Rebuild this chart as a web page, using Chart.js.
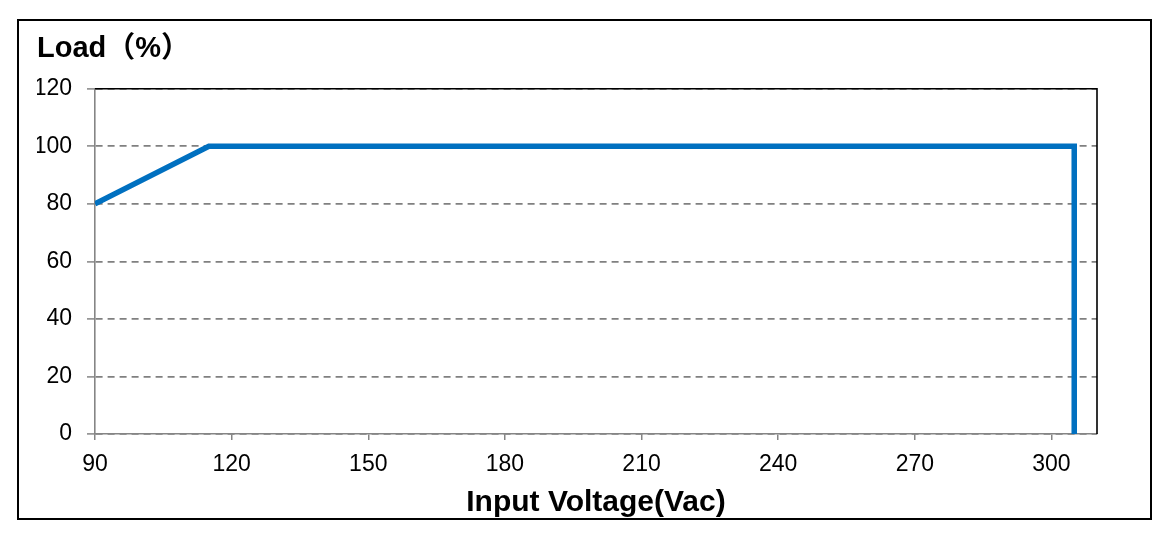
<!DOCTYPE html>
<html>
<head>
<meta charset="utf-8">
<title>Load vs Input Voltage</title>
<script src="https://cdn.jsdelivr.net/npm/chart.js@4/dist/chart.umd.min.js"></script>
<style>
  html, body { margin: 0; padding: 0; background: #fff; }
  #wrap { position: relative; width: 1163px; height: 536px; }
  #frame {
    position: absolute; left: 17px; top: 19px; width: 1135px; height: 501px;
    border: 2px solid #000; box-sizing: border-box; pointer-events: none;
  }
</style>
</head>
<body>
<div id="wrap">
  <canvas id="deratingChart"></canvas>
  <div id="frame"></div>
</div>
<script>
// Derating curve
const voltage = [90, 115, 305, 305];
const load = [80, 100, 100, 0];

const xTicks = { min: 90, max: 310, step: 30 };
const yTicks = { min: 0, max: 120, step: 20 };

const FONT = "'Liberation Sans', Arial, 'Noto Sans CJK SC', sans-serif";
const AXIS_GRAY = '#858585';
const GRID_GRAY = '#808080';

/**
 * Black top and right edges of the plot area
 */
const plotFrame = {
  id: 'plotFrame',
  afterDatasetsDraw(chart) {
    const { ctx, chartArea: a } = chart;
    ctx.save();
    ctx.strokeStyle = '#000';
    ctx.lineWidth = 1.6;
    ctx.beginPath();
    ctx.moveTo(a.left, a.top);
    ctx.lineTo(a.right, a.top);
    ctx.lineTo(a.right, a.bottom);
    ctx.stroke();
    ctx.restore();
  }
};

const points = voltage.map((v, i) => ({ x: v, y: load[i] }));

new Chart(document.getElementById('deratingChart'), {
  type: 'line',
  data: {
    datasets: [{
      data: points,
      borderColor: '#0070C0',
      borderWidth: 5.5,
      pointRadius: 0,
      borderJoinStyle: 'miter',
      tension: 0,
      fill: false
    }]
  },
  options: {
    responsive: true,
    maintainAspectRatio: false,
    animation: false,
    layout: { padding: { left: 37, right: 66, top: 32, bottom: 15 } },
    plugins: {
      legend: { display: false },
      tooltip: { enabled: false },
      title: {
        display: true,
        text: 'Load（%）',
        align: 'start',
        color: '#000',
        font: { family: FONT, size: 29, weight: 'bold', lineHeight: 1.2 },
        padding: { top: 0, bottom: 22 }
      }
    },
    scales: {
      x: {
        type: 'linear',
        min: xTicks.min,
        max: xTicks.max,
        afterFit: (s) => { s.height = 87; },
        ticks: {
          stepSize: xTicks.step,
          includeBounds: false,
          color: '#000',
          padding: 11,
          maxRotation: 0,
          font: { family: FONT, size: 23 }
        },
        grid: {
          drawOnChartArea: false,
          drawTicks: true,
          tickLength: 6,
          color: AXIS_GRAY,
          lineWidth: 1.5
        },
        border: { color: AXIS_GRAY, width: 1.6 },
        title: {
          display: true,
          text: 'Input Voltage(Vac)',
          color: '#000',
          font: { family: FONT, size: 30, weight: 'bold', lineHeight: 1.2 },
          padding: { top: 0, bottom: 0 }
        }
      },
      y: {
        min: yTicks.min,
        max: yTicks.max,
        afterFit: (s) => { s.width = 58; },
        ticks: {
          stepSize: yTicks.step,
          color: '#000',
          padding: 15,
          font: { family: FONT, size: 23 }
        },
        grid: {
          color: GRID_GRAY,
          lineWidth: 1.8,
          tickLength: 8,
          tickColor: AXIS_GRAY,
          tickWidth: 1.5,
          tickBorderDash: []
        },
        border: { color: AXIS_GRAY, width: 1.6, dash: [7, 5] }
      }
    }
  },
  plugins: [plotFrame]
});
</script>
</body>
</html>
